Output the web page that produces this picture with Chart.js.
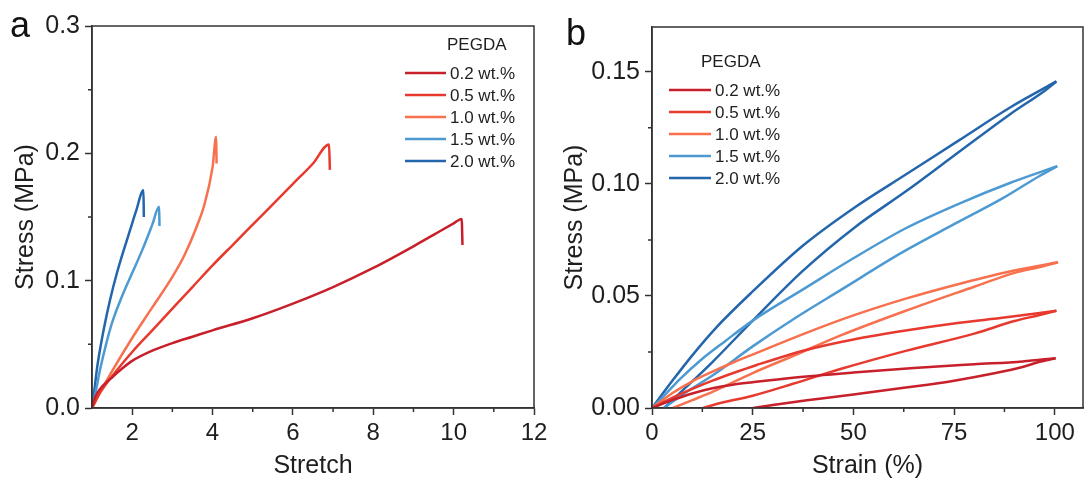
<!DOCTYPE html>
<html><head><meta charset="utf-8">
<script src="https://cdn.jsdelivr.net/npm/chart.js@4"></script>
<style>
html,body{margin:0;padding:0;background:#fff;}
#wrap{position:relative;width:1085px;height:486px;overflow:hidden;background:#fff;}
#ca{position:absolute;left:0;top:0;width:560px;height:486px;}
#cb{position:absolute;left:545px;top:0;width:540px;height:486px;}
</style></head><body>
<div id="wrap"><canvas id="ca" width="560" height="486"></canvas><canvas id="cb" width="540" height="486"></canvas></div>
<script>
// ---------- series ----------
const seriesLabels = ['0.2 wt.%', '0.5 wt.%', '1.0 wt.%', '1.5 wt.%', '2.0 wt.%'];
const seriesColors = ['#c8202b', '#e8392f', '#f7714f', '#4d9ad3', '#2466ab'];

// ---------- panel a: stretch vs stress (MPa) ----------
const a02 = [[1,0],[1.05,0.006],[1.1,0.010],[1.2,0.015],[1.35,0.020],[1.5,0.024],[1.75,0.031],[2,0.037],[2.5,0.045],[3,0.051],[3.5,0.056],[4,0.061],[5,0.0705],[6,0.082],[7,0.095],[8,0.110],[9,0.127],[9.5,0.136],[10,0.145],[10.2,0.1485],[10.22,0.128]];
const a05 = [[1,0],[1.2,0.012],[1.5,0.025],[2,0.044],[2.5,0.061],[3,0.078],[3.5,0.095],[4,0.112],[4.5,0.128],[5,0.144],[5.5,0.160],[6,0.176],[6.5,0.192],[6.9,0.207],[6.92,0.187]];
const a10 = [[1,0],[1.25,0.015],[1.5,0.029],[2,0.055],[2.5,0.079],[3,0.103],[3.3,0.120],[3.6,0.142],[3.8,0.160],[4,0.189],[4.09,0.213],[4.1,0.192]];
const a15 = [[1,0],[1.1,0.014],[1.2,0.030],[1.35,0.050],[1.5,0.067],[1.75,0.088],[2,0.106],[2.25,0.124],[2.5,0.144],[2.67,0.158],[2.68,0.143]];
const a20 = [[1,0],[1.06,0.014],[1.12,0.030],[1.2,0.046],[1.3,0.063],[1.45,0.085],[1.62,0.106],[1.8,0.125],[1.95,0.140],[2.1,0.155],[2.28,0.171],[2.29,0.150]];

const aXTicks = [2,4,6,8,10,12];
const aXMinor = [3,5,7,9,11];
const aYTicks = [0,0.1,0.2,0.3];
const aYMinor = [0.05,0.15,0.25];

// ---------- panel b: strain (%) vs stress (MPa); loading and unloading branches ----------
const b02Load   = [[0,0],[5,0.0035],[10,0.0065],[15,0.0088],[20,0.0104],[25,0.0115],[35,0.0135],[50,0.0158],[65,0.0178],[80,0.0195],[92,0.0208],[100.2,0.0222]];
const b02Unload = [[100.2,0.0222],[96,0.0205],[92,0.0183],[85,0.0155],[75,0.0122],[63,0.0091],[50,0.0060],[38,0.0033],[30,0.0013],[25.1,0]];
const b05Load   = [[0,0],[5,0.0045],[10,0.0085],[15,0.0122],[20,0.0155],[26,0.0192],[38,0.0258],[50,0.0306],[63,0.0346],[75,0.0377],[88,0.0405],[100.4,0.0434]];
const b05Unload = [[100.4,0.0434],[96,0.0414],[90,0.0388],[80,0.0332],[63,0.0255],[47,0.0175],[35,0.0108],[25,0.0055],[17,0.0022],[12.7,0]];
const b10Load   = [[0,0],[5,0.0066],[10,0.0119],[15,0.0162],[20,0.0202],[26,0.0246],[38,0.0333],[50,0.0413],[63,0.0488],[75,0.0548],[88,0.0606],[100.8,0.0650]];
const b10Unload = [[100.8,0.0650],[96,0.0628],[90,0.0603],[80,0.0541],[63,0.0434],[47,0.0325],[35,0.0232],[25,0.0156],[15,0.0072],[10,0.0035],[5.2,0]];
const b15Load   = [[0,0],[3,0.0055],[7,0.0130],[12,0.0212],[18,0.0296],[25,0.0390],[38,0.0535],[50,0.0668],[63,0.0802],[76,0.0910],[89,0.1005],[100.6,0.1079]];
const b15Unload = [[100.6,0.1079],[96,0.1033],[87,0.0935],[75,0.0820],[62,0.0693],[47,0.0528],[35,0.0395],[25,0.0275],[15,0.0145],[8,0.0065],[3,0]];
const b20Load   = [[0,0],[5,0.0120],[10,0.0235],[16,0.0360],[25,0.0520],[37.5,0.0725],[50.4,0.0896],[63.3,0.1045],[76.1,0.1193],[89,0.1342],[100.4,0.1457]];
const b20Unload = [[100.4,0.1457],[97.6,0.1417],[89,0.1312],[76.1,0.1141],[63.3,0.0970],[50.4,0.0807],[37.5,0.0613],[25,0.0390],[15,0.0205],[8,0.0085],[3,0]];

const bXTicks = [0,25,50,75,100];
const bXMinor = [12.5,37.5,62.5,87.5];
const bYTicks = [0,0.05,0.10,0.15];
const bYMinor = [0.025,0.075,0.125];

// ---------- styling ----------
const FONT = "'Liberation Sans', Arial, sans-serif";
const INK = '#1e1e1e';
const AXIS = '#333333';

const decorPlugin = {
  id: 'decor',
  afterDraw(chart, args, o) {
    const ctx = chart.ctx, ca = chart.chartArea;
    const xs = chart.scales.x, ys = chart.scales.y;
    ctx.save();
    ctx.strokeStyle = AXIS; ctx.lineWidth = 1.5;
    ctx.strokeRect(ca.left, ca.top, ca.right - ca.left, ca.bottom - ca.top);
    ctx.beginPath();
    o.minorX.forEach(v => { const px = xs.getPixelForValue(v); ctx.moveTo(px, ca.bottom); ctx.lineTo(px, ca.bottom + 4); });
    o.minorY.forEach(v => { const py = ys.getPixelForValue(v); ctx.moveTo(ca.left, py); ctx.lineTo(ca.left - 4, py); });
    ctx.stroke();
    ctx.fillStyle = '#111';
    ctx.font = '36px ' + FONT;
    ctx.textBaseline = 'alphabetic'; ctx.textAlign = 'left';
    ctx.fillText(o.letter, o.letterX, o.letterY);
    ctx.fillStyle = INK;
    ctx.font = o.legendSize + 'px ' + FONT;
    ctx.textBaseline = 'middle';
    ctx.fillText(o.legendTitle, o.titleX, o.titleY);
    chart.data.datasets.filter(ds => ds.inLegend).forEach((ds, i) => {
      const y = o.rows[i];
      ctx.strokeStyle = ds.borderColor; ctx.lineWidth = 2.5;
      ctx.beginPath(); ctx.moveTo(o.lineX1, y); ctx.lineTo(o.lineX2, y); ctx.stroke();
      ctx.fillStyle = INK;
      ctx.fillText(ds.label, o.textX, y + 1);
    });
    ctx.restore();
  }
};

function toPts(arr) { return arr.map(p => ({x: p[0], y: p[1]})); }

function lineDs(arr, i, inLegend) {
  return {
    label: seriesLabels[i], inLegend,
    data: toPts(arr), showLine: true,
    borderColor: seriesColors[i], backgroundColor: seriesColors[i],
    borderWidth: 2.5, pointRadius: 0,
    cubicInterpolationMode: 'monotone', fill: false
  };
}

function axisCommon(extra) {
  return Object.assign({
    type: 'linear',
    grid: { display: true, drawOnChartArea: false, tickLength: 7, tickColor: AXIS, tickWidth: 1.5 },
    border: { display: true, color: AXIS, width: 1.5 },
  }, extra);
}

function build(id, datasets, cfg) {
  return new Chart(document.getElementById(id), {
    type: 'scatter',
    data: { datasets },
    options: {
      responsive: false, animation: false, devicePixelRatio: 1,
      layout: { padding: { left: 0, top: cfg.top, right: cfg.right, bottom: 0 } },
      plugins: { legend: { display: false }, tooltip: { enabled: false }, decor: cfg.decor },
      scales: {
        x: axisCommon({
          min: cfg.xMin, max: cfg.xMax,
          afterBuildTicks: s => { s.ticks = cfg.xTicks.map(v => ({ value: v })); },
          afterFit: s => { s.height = cfg.xHeight; },
          ticks: { font: { family: FONT, size: 24 }, color: INK, padding: 4, maxRotation: 0, autoSkip: false, callback: v => String(v) },
          title: { display: true, text: cfg.xTitle, font: { family: FONT, size: 25 }, color: INK, padding: { top: 0, bottom: 5 } }
        }),
        y: axisCommon({
          min: cfg.yMin, max: cfg.yMax,
          afterBuildTicks: s => { s.ticks = cfg.yTicks.map(v => ({ value: v })); },
          afterFit: s => { s.width = cfg.yWidth; },
          ticks: { font: { family: FONT, size: 25 }, color: INK, padding: 5, autoSkip: false, callback: v => v.toFixed(cfg.yDec) },
          title: { display: true, text: 'Stress (MPa)', font: { family: FONT, size: 25 }, color: INK, padding: { top: cfg.yTitlePad, bottom: 0 } }
        })
      }
    },
    plugins: [decorPlugin]
  });
}

build('ca', [a02, a05, a10, a15, a20].map((a, i) => lineDs(a, i, true)), {
  top: 26, right: 26, xMin: 1, xMax: 12, yMin: 0, yMax: 0.3, yDec: 1,
  xTicks: aXTicks, yTicks: aYTicks, xHeight: 78, yWidth: 92, yTitlePad: 11,
  xTitle: 'Stretch',
  decor: { minorX: aXMinor, minorY: aYMinor, letter: 'a', letterX: 10, letterY: 37,
    legendTitle: 'PEGDA', legendSize: 17, titleX: 447, titleY: 45,
    lineX1: 405, lineX2: 446, textX: 450, rows: [73, 95, 117, 139, 161] }
});

const bLoads = [b02Load, b05Load, b10Load, b15Load, b20Load];
const bUnloads = [b02Unload, b05Unload, b10Unload, b15Unload, b20Unload];
build('cb', bLoads.map((a, i) => lineDs(a, i, true)).concat(bUnloads.map((a, i) => lineDs(a, i, false))), {
  top: 27, right: 2, xMin: 0, xMax: 107, yMin: 0, yMax: 0.17, yDec: 2,
  xTicks: bXTicks, yTicks: bYTicks, xHeight: 78, yWidth: 107, yTitlePad: 15,
  xTitle: 'Strain (%)',
  decor: { minorX: bXMinor, minorY: bYMinor, letter: 'b', letterX: 21, letterY: 45,
    legendTitle: 'PEGDA', legendSize: 17, titleX: 156, titleY: 62,
    lineX1: 124, lineX2: 166, textX: 170, rows: [90, 112, 134, 156, 178] }
});
</script>
</body></html>
